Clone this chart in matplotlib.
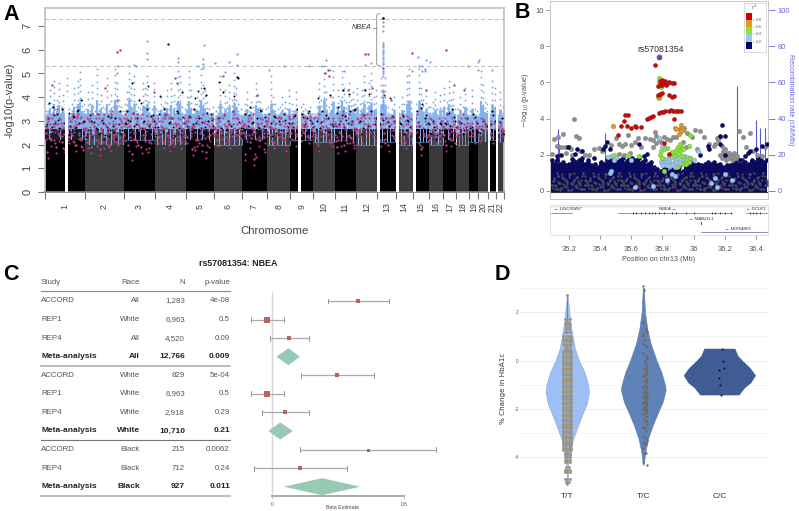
import numpy as np
import matplotlib
matplotlib.use('Agg')
import matplotlib.pyplot as plt
from matplotlib.patches import Polygon, Rectangle

plt.rcParams['font.family'] = ['Liberation Sans', 'DejaVu Sans']

W, H = 799, 511

# ---------- A: manhattan ----------
chrom_len = [249, 243, 198, 191, 181, 171, 159, 146, 141, 135, 135, 133, 115, 107, 102, 90, 81, 78, 59, 63, 48, 51]
chrom_floor = [2.2, 2.0, 2.2, 2.0, 2.2, 2.0, 2.2, 2.0, 2.2, 2.1, 2.1, 2.0, 2.1, 2.0, 2.1, 2.0, 2.2, 2.0, 2.1, 2.1, 2.2, 2.1]
blue_tops = [
    [3.4, 3.7, 4.3, 3.6, 4.7, 3.5, 3.9, 4.6, 3.6, 4.1, 3.7, 4.8, 3.5, 3.3, 3.7, 4.4, 3.6, 4.7, 5.05, 3.9, 3.7],
    [3.5, 4.2, 3.7, 4.5, 3.6, 3.4, 5.2, 3.7, 4.1, 3.6, 3.5, 4.8, 3.7, 4.1, 3.6, 5.2, 4.6, 3.9, 3.6, 3.4],
    [3.7, 4.2, 5.3, 4.4, 4.9, 3.7, 3.6, 3.5, 4.6, 4.4, 4.9, 3.8, 3.5, 4.6],
    [3.5, 3.4, 4.0, 3.6, 3.8, 4.3, 3.5, 4.6, 4.1, 3.7, 5.1, 4.9, 3.6, 3.5],
    [4.0, 5.1, 4.3, 3.5, 3.7, 4.0, 3.9, 5.2, 4.5, 4.3, 3.8, 3.5, 3.3, 3.6],
    [3.4, 3.6, 4.9, 3.6, 4.3, 3.8, 4.5, 3.9, 5.0, 4.4, 3.7, 3.5],
    [3.2, 3.7, 4.2, 3.4, 3.8, 3.6, 4.6, 4.1, 3.8, 3.5, 3.3, 3.5],
    [3.6, 4.9, 4.0, 3.7, 3.5, 3.6, 4.0, 3.8, 3.5, 4.3],
    [3.7, 3.4, 4.2, 3.3, 3.6, 3.7, 3.5, 3.4, 3.6, 3.3],
    [3.3, 3.6, 4.6, 3.9, 5.3, 4.2, 3.6, 4.0, 5.1],
    [3.6, 4.3, 3.9, 5.1, 4.4, 3.8, 4.6, 3.9, 4.2, 3.7],
    [4.4, 3.7, 4.3, 4.9, 3.8, 4.6, 5.0, 4.0, 4.3],
    [3.5, 4.8, 4.5, 4.8, 3.6, 3.3, 3.5, 4.0],
    [3.4, 3.6, 4.0, 3.7, 4.9, 5.2, 3.8],
    [3.4, 3.7, 5.2, 4.4, 3.9, 4.3, 3.6],
    [3.6, 3.8, 4.2, 3.5, 4.1, 3.4],
    [4.4, 3.8, 4.7, 3.9, 4.2, 3.5],
    [3.5, 4.0, 3.6, 4.4, 3.5],
    [3.4, 4.3, 3.5, 3.4],
    [3.3, 5.1, 4.5, 3.8, 3.7],
    [3.7, 4.7, 4.4],
    [3.5, 4.2, 3.6],
]
black_tops = [
    [2.8, 3.1, 2.6, 3.6, 2.9, 3.3, 2.7, 3.5, 2.9, 2.5, 2.4, 2.8, 3.2, 2.7, 3.4, 2.9, 3.9, 3.0],
    [2.3, 2.6, 3.0, 2.4, 2.7, 3.3, 2.5, 2.9, 2.4, 3.2, 2.6, 2.8, 3.1, 2.5, 3.4, 2.6],
    [2.9, 3.4, 3.0, 4.6, 2.8, 3.1, 3.9, 2.7, 3.0, 3.5, 2.8, 3.2, 3.0],
    [2.4, 3.3, 2.6, 3.5, 2.5, 2.9, 3.1, 2.4, 3.4, 2.7, 4.2, 2.9],
    [2.8, 3.2, 2.7, 3.5, 2.9, 3.1, 2.7, 4.4, 4.1, 3.0, 3.3, 2.8],
    [2.5, 3.1, 2.7, 4.2, 2.6, 3.0, 2.8, 3.4, 2.6, 4.8, 2.7],
    [2.7, 3.3, 2.8, 3.6, 2.9, 2.6, 3.1, 2.7, 3.4, 2.8, 3.0],
    [2.4, 2.9, 3.2, 2.5, 3.0, 2.6, 3.3, 2.5, 2.9],
    [2.9, 3.2, 3.5, 3.0, 3.3, 2.8, 3.1, 3.4, 2.9],
    [2.5, 3.0, 2.7, 3.4, 2.6, 3.1, 4.1, 2.8],
    [2.8, 3.6, 3.0, 4.3, 3.2, 2.9, 3.4, 3.0, 3.5],
    [2.6, 3.0, 2.7, 4.3, 2.8, 3.4, 2.6, 3.1],
    [2.9, 3.3, 4.1, 3.1, 2.8, 3.2, 3.0],
    [2.5, 2.9, 3.2, 2.6, 3.0, 2.5],
    [3.0, 3.4, 2.8, 3.7, 3.1, 2.9],
    [2.5, 3.0, 2.6, 2.4, 2.9, 2.6],
    [2.9, 3.3, 2.8, 3.5, 3.0],
    [2.4, 2.9, 2.6, 3.1],
    [2.7, 3.3, 2.9],
    [2.5, 3.0, 2.8],
    [2.8, 3.4, 3.0],
    [2.6, 3.1],
]
pink_vals = [
    [2.5, 1.7, 3.1, 2.2, 4.5, 2.8, 1.9, 3.5, 2.4, 2.9, 2.1, 2.7, 1.6, 2.6, 2.3, 3.0, 2.4, 2.8, 2.0, 3.2, 2.5, 2.2, 2.9, 2.6],
    [2.7, 2.1, 3.0, 1.9, 2.4, 2.8, 2.2, 3.3, 1.8, 2.6, 2.1, 4.4, 2.5, 2.9, 2.0, 3.4, 2.4, 2.7, 3.9, 2.3, 3.0, 2.5],
    [2.4, 3.0, 2.0, 2.8, 1.6, 2.5, 2.2, 3.3, 2.6, 1.9, 2.9, 2.4, 3.2, 2.1, 2.7, 3.0, 4.2],
    [2.9, 2.3, 2.6, 3.0, 2.1, 2.7, 2.4, 2.0, 3.1, 2.2, 4.8, 4.6, 2.6, 2.1, 2.9, 2.4],
    [2.3, 3.0, 2.6, 1.8, 2.8, 2.2, 3.2, 2.5, 2.0, 2.9, 1.7, 2.6, 2.4, 3.1, 2.7],
    [2.7, 2.2, 3.0, 2.5, 4.9, 2.3, 2.8, 2.1, 2.6, 3.4, 2.4, 3.1, 2.7, 2.5],
    [2.8, 1.6, 2.4, 3.0, 2.1, 2.7, 1.4, 2.5, 4.1, 2.2, 2.9, 2.6, 2.3, 2.8],
    [3.0, 2.4, 2.7, 2.1, 2.9, 2.3, 3.1, 2.5, 2.8, 2.0, 2.6, 3.2],
    [2.5, 2.9, 2.2, 2.7, 3.1, 2.4, 2.8, 3.0, 2.6, 2.3, 3.2, 2.6],
    [2.8, 2.3, 2.0, 2.6, 3.0, 2.4, 2.7, 4.9, 2.2, 3.1],
    [2.4, 1.9, 2.8, 2.2, 3.4, 2.0, 2.6, 4.3, 2.3, 2.9, 2.1, 2.7],
    [2.6, 2.9, 2.3, 3.2, 2.5, 5.8, 2.8, 4.4, 2.4, 3.0],
    [2.7, 2.2, 3.1, 2.5, 2.9, 2.0, 3.9, 2.6, 3.0],
    [2.6, 3.0, 2.3, 2.8, 2.1, 3.2, 2.5, 2.7],
    [2.1, 2.8, 2.3, 1.8, 2.7, 4.3, 2.4],
    [2.6, 2.9, 2.3, 2.7, 2.4, 3.0],
    [2.4, 2.0, 2.9, 2.5, 2.2, 2.8, 4.5, 2.6],
    [2.7, 3.0, 2.5, 4.3, 2.8, 2.6],
    [2.6, 2.9, 2.3, 2.7],
    [2.4, 2.8, 3.0, 2.6],
    [2.7, 2.3, 2.9],
    [2.5, 2.8, 2.6],
]
# chromosome gaps, genome position from cumulative Mb
gap_chrom = [1, 9, 13, 14, 15, 21, 22]
gap_start = [125, 48, 0, 0, 0, 0, 0]
gap_end = [143, 66, 20, 20, 20, 11, 16]
out_blue_x = [456, 454, 560, 569, 636, 636, 636, 832, 832, 987, 987, 987, 995, 956, 1066, 1154, 1200, 1200, 1129, 1401,
              1763, 1736, 1788, 1652, 1495, 1876, 2045, 2007, 2338, 2388, 2415, 2300, 2343, 2360, 2380, 2360, 2380, 2651, 2712, 2722, 2712, 2798]
out_blue_y = [5.3, 5.0, 5.35, 5.3, 5.85, 5.6, 6.38, 5.65, 5.5, 5.6, 5.4, 5.25, 6.22, 5.3, 5.45, 5.5, 5.8, 5.35, 5.05, 5.15,
              5.55, 5.3, 5.15, 5.3, 5.3, 5.1, 5.45, 5.35, 5.7, 5.55, 5.5, 5.1, 5.3, 5.3, 5.2, 5.1, 5.1, 5.3, 5.5, 5.55, 5.15, 5.15]
out_pink_x = [470, 454, 2007, 2298, 2513, 1757, 1775]
out_pink_y = [5.97, 5.9, 5.8, 5.85, 6.0, 5.0, 5.15]
out_black_x = [769, 1201]
out_black_y = [6.23, 4.85]
nbea_x = 2120
nbea_blue = [7.15, 7.0, 6.8, 6.3, 6.2, 6.1, 6.0, 5.9, 5.8, 5.7, 5.6, 5.5, 5.4, 5.1, 5.0, 4.9, 4.3, 4.2, 4.1, 4.0, 3.9, 3.8, 3.7, 3.6]
nbea_pink = [5.25]
nbea_black = [7.35]

# ---------- B: locus zoom ----------
lead_x, lead_y = [35.777], [7.39]
red_x = [35.75, 35.785, 35.80, 35.815, 35.79, 35.81, 35.83, 35.845, 35.86, 35.875, 35.77, 35.785, 35.80, 35.825,
         35.785, 35.80, 35.77, 35.84, 35.86, 35.875, 35.78, 35.79, 35.805, 35.815, 35.84, 35.855, 35.87, 35.885, 35.90, 35.92,
         35.70, 35.71, 35.725, 35.74, 35.875, 35.55, 35.56, 35.58, 35.53, 35.57, 35.60, 35.62, 35.63, 35.66, 35.515, 35.81, 35.84]
red_y = [6.98, 6.1, 6.15, 6.1, 5.95, 5.95, 5.9, 6.0, 5.95, 5.95, 5.8, 5.85, 5.85, 5.85,
         5.35, 5.42, 5.3, 5.3, 5.2, 5.25, 4.3, 4.35, 4.38, 4.4, 4.42, 4.45, 4.42, 4.42, 4.4, 4.4,
         4.0, 4.05, 4.1, 4.15, 4.0, 3.85, 4.2, 4.2, 3.6, 3.6, 3.5, 3.6, 3.55, 3.55, 3.1, 2.65, 2.05]
orange_x = [35.48, 35.775, 35.785, 35.88, 35.89, 35.92, 35.925, 35.93, 35.905, 35.92]
orange_y = [3.6, 5.15, 5.3, 3.5, 3.4, 3.65, 3.5, 3.35, 3.15, 3.3]
green_x = [35.775, 35.78, 35.79, 35.77, 35.49, 35.58, 35.65, 35.98, 35.92, 35.90, 35.91, 35.895, 35.88, 35.91, 35.93, 35.97,
           35.79, 35.785, 35.80, 35.83, 35.845, 35.81, 35.87, 35.88, 35.93, 35.95, 35.97, 35.93, 35.95, 35.895, 35.81, 35.98, 35.905, 35.86]
green_y = [6.25, 6.05, 5.75, 5.2, 2.0, 2.0, 1.9, 3.1, 2.45, 2.4, 2.6, 2.3, 2.2, 2.2, 2.3, 2.5,
           2.2, 2.0, 1.8, 2.35, 2.0, 2.3, 2.05, 1.9, 1.9, 1.7, 1.6, 1.5, 1.5, 1.3, 1.1, 1.8, 2.05, 2.15]
lblue_x = [35.80, 35.82, 35.84, 35.86, 35.88, 35.90, 35.92, 35.94, 35.96, 35.79, 35.81, 35.83, 35.85, 35.87, 35.89, 35.91, 35.93, 35.82, 35.84, 35.86, 35.88, 35.90, 35.94, 35.98, 35.80,
           35.81, 35.78, 35.80, 36.03, 35.47, 35.49, 35.45, 35.50, 35.60, 35.46, 35.47, 35.62, 35.74, 35.86, 35.88, 35.83, 36.11, 36.15, 36.14, 36.20, 36.25, 36.0]
lblue_y = [1.8, 1.75, 1.7, 1.85, 1.75, 1.8, 1.7, 1.75, 1.85, 1.6, 1.55, 1.6, 1.5, 1.55, 1.6, 1.55, 1.5, 1.4, 1.35, 1.4, 1.3, 1.35, 1.9, 1.8, 1.4,
           2.4, 2.9, 2.45, 2.2, 1.9, 1.7, 1.85, 1.85, 1.7, 1.0, 1.1, 0.2, 0.25, 0.9, 0.8, 0.6, 0.45, 0.2, 0.7, 0.9, 0.6, 1.7]
gray_x = [35.10, 35.13, 35.16, 35.12, 35.15, 35.17, 35.19, 35.21, 35.23, 35.245, 35.26, 35.09, 35.18, 35.20, 35.22, 35.27, 35.30, 35.33, 35.36, 35.39, 35.41,
          35.47, 35.50, 35.52, 35.54, 35.56, 35.58, 35.60, 35.62, 35.64, 35.66, 35.69, 35.72, 35.74, 35.75, 35.76, 35.78, 35.79, 35.81, 35.83, 35.85, 35.87, 35.76, 35.74,
          35.89, 35.91, 35.94, 35.96, 35.99, 36.04, 36.07, 36.10, 36.13, 36.17, 36.16, 36.18, 36.20, 36.22, 36.24, 36.26, 36.19, 36.21, 36.23, 36.25, 36.27,
          36.29, 36.32, 36.34, 36.36, 36.38, 36.41, 36.44, 36.46, 35.55, 35.59, 35.52, 36.01, 36.02, 35.93, 35.95, 36.15, 36.14,
          36.17, 36.18, 36.19, 36.20, 36.21, 36.22, 36.23, 36.24, 36.25, 36.26, 36.28, 36.30]
gray_y = [2.85, 3.0, 3.15, 2.5, 2.4, 2.45, 2.4, 2.3, 4.0, 3.05, 2.9, 2.05, 2.1, 2.45, 2.0, 2.2, 2.0, 2.0, 2.3, 2.35, 2.2,
          2.55, 2.9, 2.6, 2.5, 2.6, 3.1, 2.55, 2.7, 2.9, 2.45, 2.9, 2.85, 2.8, 3.25, 3.05, 2.85, 2.7, 3.0, 2.85, 2.8, 3.0, 2.65, 2.4,
          2.95, 3.4, 3.45, 3.2, 2.95, 3.3, 2.95, 2.6, 2.5, 3.0, 2.8, 2.5, 2.3, 2.1, 2.0, 2.1, 2.2, 1.9, 1.95, 2.0, 1.8,
          3.3, 3.0, 2.4, 3.2, 2.2, 2.0, 1.9, 2.4, 2.0, 2.1, 2.05, 3.35, 2.3, 2.7, 2.4, 2.9, 2.6,
          2.0, 1.8, 2.1, 1.9, 1.7, 1.8, 2.1, 1.9, 1.7, 1.8, 1.9, 1.7]
navy_x = [36.18, 36.20, 36.17, 35.09, 35.19, 35.15, 35.25, 35.24, 35.28, 35.43, 35.44, 35.42, 35.46, 35.65, 35.70, 36.09, 36.10, 36.04, 36.17, 36.20,
          36.35, 36.36, 36.40, 36.44, 36.47, 35.12, 35.22, 35.32, 35.36, 35.58, 35.68, 36.30, 36.33]
navy_y = [3.65, 3.05, 3.05, 1.7, 2.4, 2.0, 2.3, 2.05, 2.2, 2.5, 2.7, 2.3, 2.3, 2.6, 2.05, 2.5, 2.3, 2.0, 2.6, 2.0,
          2.1, 2.2, 2.3, 2.5, 2.6, 1.9, 1.75, 1.7, 1.8, 1.7, 1.9, 1.7, 1.9]
navy_tops = [1.6, 1.5, 1.7, 1.5, 1.6, 1.4, 1.5, 1.7, 1.6, 1.7, 1.8, 1.5, 1.6, 1.4, 1.5, 1.3, 1.6, 1.5, 1.7, 1.8, 1.7, 1.6, 1.7, 1.8, 1.6, 1.7, 1.8, 1.7, 1.8, 1.6,
             1.7, 1.5, 1.6, 1.3, 1.2, 1.1, 1.2, 1.3, 1.1, 1.2, 1.2, 1.3, 1.1, 1.4, 1.5, 1.6, 1.4, 1.5, 1.4, 1.5, 1.6, 1.5, 1.6, 1.4, 1.5, 1.3, 1.4, 1.4, 1.5, 1.6, 1.5, 1.7, 1.6, 1.5, 1.7, 1.6, 1.8, 1.7, 1.6, 1.7]
specks_y = [0.3, 0.6, 0.1, 0.8, 0.4, 0.15, 0.7, 0.25, 0.5, 0.05, 0.9, 0.35, 0.6, 0.2, 0.75, 0.45, 0.1, 1.0, 0.3, 0.55]
recomb_x = [35.13, 35.135, 35.43, 36.28, 36.40, 36.43, 36.46, 35.16, 35.20, 35.38, 35.55, 35.62, 35.72, 35.88, 35.97, 36.08, 36.15, 36.24, 36.33, 36.37]
recomb_h = [34, 26, 32, 58, 39, 35, 35, 12, 10, 11, 8, 9, 10, 12, 10, 9, 11, 12, 14, 16]
r2_colors = ['#cc0000', '#e49a2a', '#8ae234', '#9dc6ee', '#000066']
r2_ticks = ['0.8', '0.6', '0.4', '0.2']

# ---------- C: forest ----------
studies = ['ACCORD', 'REP1', 'REP4', 'Meta-analysis', 'ACCORD', 'REP1', 'REP4', 'Meta-analysis', 'ACCORD', 'REP4', 'Meta-analysis']
races = ['All', 'White', 'All', 'All', 'White', 'White', 'White', 'White', 'Black', 'Black', 'Black']
ns = ['1,283', '6,963', '4,520', '12,766', '829', '6,963', '2,918', '10,710', '215', '712', '927']
pvals = ['4e-08', '0.5', '0.09', '0.009', '5e-04', '0.5', '0.29', '0.21', '0.0062', '0.24', '0.011']
beta = [0.325, -0.019, 0.065, 0.061, 0.247, -0.019, 0.048, 0.030, 0.363, 0.106, 0.189]
ci_lo = [0.211, -0.081, -0.008, 0.016, 0.110, -0.081, -0.039, -0.015, 0.106, -0.070, 0.044]
ci_hi = [0.442, 0.043, 0.138, 0.105, 0.385, 0.043, 0.138, 0.078, 0.620, 0.285, 0.334]
weight = [4.0, 6.0, 5.0, 0, 3.5, 6.0, 4.5, 0, 3.0, 3.5, 0]

# ---------- D: violins ----------
geno = ['T/T', 'T/C', 'C/C']
tt_y = [2.7, 1.6, 1.0, 0.5, 0.0, -0.5, -1.0, -1.3, -1.8, -2.2, -2.7, -3.2, -3.7, -4.2, -5.1]
tt_w = [0.004, 0.04, 0.07, 0.10, 0.155, 0.23, 0.275, 0.285, 0.255, 0.20, 0.14, 0.08, 0.04, 0.015, 0.004]
tc_y = [3.1, 2.0, 1.3, 0.7, 0.0, -0.5, -1.0, -1.2, -1.7, -2.2, -2.7, -3.2, -3.7, -4.3]
tc_w = [0.004, 0.022, 0.053, 0.097, 0.175, 0.24, 0.285, 0.295, 0.255, 0.185, 0.12, 0.065, 0.03, 0.004]
cc_y = [0.5, 0.2, 0.0, -0.3, -0.6, -0.9, -1.1, -1.4]
cc_w = [0.20, 0.24, 0.30, 0.40, 0.47, 0.41, 0.33, 0.255]
tt_rows = [2.7, 1.7, 1.6, 1.5, 1.4, 1.3, 1.2, 1.0, 0.9, 0.8, 0.7, 0.6, 0.5, 0.4, 0.3, 0.2, 0.1, 0.0, -0.1, -0.2, -0.3, -0.4, -0.5, -0.6, -0.7, -0.8, -0.9,
           -1.0, -1.1, -1.2, -1.3, -1.4, -1.5, -1.6, -1.7, -1.8, -1.9, -2.0, -2.1, -2.2, -2.3, -2.4, -2.5, -2.6, -2.7, -2.8, -2.9, -3.0, -3.1, -3.2,
           -3.3, -3.4, -3.5, -3.6, -3.7, -3.8, -3.9, -4.0, -4.1, -4.2, -4.4, -4.5, -4.6, -4.9, -5.0, -5.1]
tt_count = [1, 3, 2, 3, 2, 2, 3, 4, 4, 4, 4, 3, 3, 4, 4, 4, 4, 4, 4, 4, 4, 4, 4, 4, 4, 4, 4,
            4, 4, 4, 4, 4, 4, 4, 4, 4, 4, 4, 4, 4, 4, 4, 4, 4, 4, 4, 4, 4, 4, 4,
            4, 4, 4, 4, 4, 3, 3, 3, 3, 3, 2, 3, 3, 3, 2, 1]
tc_px = [0.0, 0.01, 0.0, 0.04, 0.05, 0.0, -0.01, 0.01, 0.0, 0.03, 0.05, -0.01, 0.03, 0.05, 0.02, 0.04, 0.05, 0.01, 0.03, 0.05, 0.02, 0.04, 0.0, 0.03, 0.05,
         0.01, 0.04, 0.02, 0.05, -0.01, 0.03, 0.01, 0.05, 0.02, 0.04, 0.0, 0.03, 0.05, 0.01, 0.04, 0.02, 0.0, 0.05, 0.03, 0.01, 0.04, -0.01, 0.02, 0.05, 0.03,
         0.0, 0.04, 0.01, 0.03, 0.05, -0.01, 0.02, 0.04, 0.0, 0.03, 0.05, 0.01, 0.04, 0.0, 0.03, 0.02, 0.0, 0.05]
tc_py = [3.1, 2.9, 1.6, 1.3, 1.2, 1.1, 1.0, 0.85, 0.7, 0.6, 0.55, 0.3, 0.2, 0.1, 0.0, -0.15, -0.25, -0.3, -0.4, -0.45, -0.55, -0.6, -0.65, -0.75, -0.8,
         -0.85, -0.9, -1.0, -1.05, -1.1, -1.15, -1.25, -1.3, -1.35, -1.4, -1.45, -1.5, -1.55, -1.6, -1.65, -1.7, -1.75, -1.8, -1.85, -1.9, -1.95, -2.0, -2.05, -2.1, -2.15,
         -2.2, -2.3, -2.4, -2.5, -2.6, -2.75, -2.8, -2.9, -3.1, -3.2, -3.3, -3.4, -3.45, -3.6, -3.8, -3.8, -4.2, -4.3]
cc_px = [0.03, 0.05, 0.06, -0.01, 0.0, 0.01, 0.02]
cc_py = [0.5, 0.0, -0.3, -0.4, -0.7, -1.0, -1.4]


def axes_px(fig, l, t, r, b):
    return fig.add_axes([l / W, 1 - b / H, (r - l) / W, (b - t) / H])


fig = plt.figure(figsize=(W / 100, H / 100), dpi=100)

# ---- panel A ----
ax = axes_px(fig, 45, 8, 504, 192)
starts = np.concatenate([[0], np.cumsum(chrom_len)])
for i, n in enumerate(chrom_len):
    base = '#000000' if i % 2 == 0 else '#3a3a3a'
    ax.bar(starts[i], chrom_floor[i], width=n, align='edge', color=base, lw=0, zorder=1)
    tops = np.array(blue_tops[i], dtype=float)
    step = n / len(tops)
    bx = starts[i] + (np.arange(len(tops)) + 0.5) * step
    solid = 3.15 + (tops - 3.15) * 0.35
    # solid blue body, sparse dotted spike above it
    ax.vlines(bx, chrom_floor[i], solid, color='#84b2ec', lw=step * 0.1147 + 0.2, zorder=2)
    for x0, s0, t0 in zip(bx, solid, tops):
        yy = np.arange(t0, s0, -0.27)
        ax.scatter([x0] * len(yy), yy, s=1.8, color='#7aa8e4', lw=0, zorder=3)
    kt = np.array(black_tops[i])
    step_k = n / len(kt)
    kx = starts[i] + (np.arange(len(kt)) + 0.5) * step_k
    ax.vlines(kx, chrom_floor[i], np.minimum(kt, 2.75) - 0.1, color=base, lw=step_k * 0.1147 * 0.75, zorder=4)
    ax.scatter(kx, kt, s=2.4, color='black', lw=0, zorder=4)
    ax.scatter(kx + step_k / 2, kt[::-1] - 0.15, s=2, color='black', lw=0, zorder=4)
    pv = np.array(pink_vals[i])
    step_p = n / len(pv)
    pos_p = starts[i] + (np.arange(len(pv)) + 0.5) * step_p
    ax.scatter(pos_p, pv, s=3, color='#c0408e', lw=0, zorder=5)
    ax.scatter(pos_p + step_p / 2, np.minimum(pv[::-1], 3.2) + 0.08, s=2.6, color='#b8408a', lw=0, zorder=5)
    ax.scatter(pos_p + step_p / 4, np.minimum(pv, 3.1) - 0.25, s=2.4, color='#b03d84', lw=0, zorder=5)
    ax.scatter(pos_p - step_p / 4, np.minimum(pv[::-1], 2.9) + 0.2, s=2.4, color='#b8408a', lw=0, zorder=5)
for c, g0, g1 in zip(gap_chrom, gap_start, gap_end):
    ax.bar(starts[c - 1] + g0, 4.0, width=g1 - g0, align='edge', color='white', lw=0, zorder=6)
ax.scatter(out_blue_x, out_blue_y, s=2.4, color='#6f9fdc', lw=0, zorder=7)
ax.scatter(out_pink_x, out_pink_y, s=3, color='#c0307e', lw=0, zorder=7)
ax.scatter(out_black_x, out_black_y, s=3, color='#222222', lw=0, zorder=7)
ax.scatter([nbea_x] * len(nbea_blue), nbea_blue, s=2.6, color='#6f9fdc', lw=0, zorder=7)
ax.scatter([nbea_x] * len(nbea_pink), nbea_pink, s=3, color='#c0307e', lw=0, zorder=7)
ax.scatter([nbea_x] * len(nbea_black), nbea_black, s=4, color='#111111', lw=0, zorder=8)
ax.axhline(7.3, color='#bbbbbb', lw=0.7, ls=(0, (4, 3)), zorder=2)
ax.axhline(5.3, color='#bbbbbb', lw=0.7, ls=(0, (4, 3)), zorder=2)
ax.plot([2098, 2082, 2078, 2078, 2082, 2098], [7.52, 7.5, 7.42, 5.42, 5.34, 5.32], color='#999999', lw=0.7, zorder=6)
ax.plot([2054, 2078], [6.93, 6.93], color='#999999', lw=0.7, zorder=6)
ax.text(2046, 6.93, 'NBEA', style='italic', fontsize=5.2, color='#333333', ha='right', va='center', zorder=9)
ax.set_xlim(0, starts[-1])
ax.set_ylim(0, 7.76)
ax.set_yticks(range(8))
ax.set_yticklabels(range(8), rotation=90, va='center', fontsize=8, color='#444444')
ax.set_xticks(starts)
ax.set_xticklabels([])
ax.tick_params(axis='x', length=5, width=0.8, color='#777777')
ax.tick_params(axis='y', length=5, width=0.8, color='#777777', pad=4)
for s in ax.spines.values():
    s.set_color('#c4c4c4')
    s.set_linewidth(1.3)
ax.spines['bottom'].set_color('#888888')
mids = (starts[:-1] + starts[1:]) / 2
for i, m in enumerate(mids):
    ax.text(m, -0.63, str(i + 1), rotation=90, ha='center', va='center', fontsize=6.3, color='#444444', clip_on=False)
ax.set_ylabel('-log10(p-value)', fontsize=8, color='#444444', labelpad=6)
ax.set_xlabel('Chromosome', fontsize=8.2, color='#444444', labelpad=16)

# ---- panel B ----
bx_ax = axes_px(fig, 550, 1.3, 768, 199)
bx_ax.set_xlim(35.076, 36.479)
bx_ax.set_ylim(-0.46, 10.5)
recomb = bx_ax.twinx()
recomb.set_ylim(-4.6, 105)
recomb.vlines(recomb_x, 0, recomb_h, color='#5a5ad6', lw=0.8, zorder=1)
bx_ax.set_zorder(recomb.get_zorder() + 1)
bx_ax.patch.set_visible(False)
nx = np.linspace(35.08, 36.475, len(navy_tops))
bx_ax.fill_between(nx, -0.08, navy_tops, step='mid', color='#0a0a5e', lw=0, zorder=2)
bx_ax.scatter(nx, navy_tops, s=11, color='#0a0a5e', lw=0, zorder=2)
sx = np.linspace(35.09, 36.47, 120)
sy = np.resize(specks_y, sx.size)
bx_ax.scatter(sx, sy, s=3.5, color='#55555f', lw=0, zorder=3)
bx_ax.scatter(sx + 0.005, np.resize(specks_y[::-1], sx.size), s=3.5, color='#44444f', lw=0, zorder=3)
bx_ax.scatter(sx + 0.003, np.resize(specks_y[5:] + specks_y[:5], sx.size), s=3, color='#4a4a55', lw=0, zorder=3)
bx_ax.plot([35.08, 36.475], [-0.08, -0.08], color='#333344', lw=0.8, zorder=3)
ms = 11
bx_ax.scatter(gray_x, gray_y, s=ms, color='#8e8e8e', edgecolor='#7c7c7c', lw=0.2, zorder=4)
bx_ax.scatter(navy_x, navy_y, s=ms, color='#0a0a5e', lw=0, zorder=5)
bx_ax.scatter(lblue_x, lblue_y, s=ms, color='#9dc6ee', edgecolor='#7a9ab8', lw=0.3, zorder=5)
bx_ax.scatter(green_x, green_y, s=ms, color='#8ae234', edgecolor='#77aa55', lw=0.3, zorder=6)
bx_ax.scatter(orange_x, orange_y, s=ms, color='#e49a2a', edgecolor='#99794a', lw=0.3, zorder=6)
bx_ax.scatter(red_x, red_y, s=ms, color='#b81010', lw=0, zorder=7)
bx_ax.scatter(lead_x, lead_y, s=14, color='#7b3fa8', edgecolor='#555555', lw=0.3, zorder=8)
bx_ax.text(35.79, 7.85, 'rs57081354', fontsize=6.3, color='#333333', ha='center', va='center', zorder=9)
bx_ax.set_yticks([0, 2, 4, 6, 8, 10])
bx_ax.set_xticks([])
bx_ax.tick_params(axis='y', length=3, width=0.6, color='#888888', labelsize=5.5, labelcolor='#555555', pad=1.5)
bx_ax.set_ylabel(r'$-\log_{10}$(p-value)', fontsize=5.2, color='#555555', labelpad=3)
recomb.set_yticks([0, 20, 40, 60, 80, 100])
recomb.tick_params(axis='y', length=5, width=0.6, color='#6666dd', labelsize=5.5, labelcolor='#6666dd', pad=2)
recomb.set_ylabel('Recombination rate (cM/Mb)', rotation=270, fontsize=5.2, color='#6666dd', labelpad=3)
for a in (bx_ax, recomb):
    for s in a.spines.values():
        s.set_color('#c8c8c8')
        s.set_linewidth(0.7)

# r2 legend
lg = axes_px(fig, 744, 3, 766, 52)
lg.set_xlim(0, 22)
lg.set_ylim(49, 0)
lg.set_xticks([])
lg.set_yticks([])
lg.set_zorder(20)
for s in lg.spines.values():
    s.set_color('#cccccc')
    s.set_linewidth(0.5)
for i, c in enumerate(r2_colors):
    lg.add_patch(Rectangle((1.7, 9.5 + i * 7.3), 6.7, 7.3, color=c, lw=0))
for i, t in enumerate(r2_ticks):
    lg.plot([8.4, 10.5], [16.8 + i * 7.3] * 2, color='#999999', lw=0.3)
    lg.text(11.5, 16.8 + i * 7.3, t, fontsize=3.2, color='#666666', va='center')
lg.text(10, 4.5, r'$r^2$', fontsize=3.8, color='#555555', ha='center', va='center')

# gene track
tr = axes_px(fig, 550, 205, 768, 235)
tr.set_xlim(35.076, 36.479)
tr.set_ylim(0, 30)
tr.axhspan(27.5, 30, color='#efefef', lw=0)
tr.plot([35.08, 35.215], [22.5, 22.5], color='#3c3c8c', lw=0.4)
tr.plot([35.515, 36.25], [22.5, 22.5], color='#3c3c8c', lw=0.4)
tr.plot([36.34, 36.475], [22.5, 22.5], color='#3c3c8c', lw=0.4)
tr.plot([36.05, 36.475], [2.7, 2.7], color='#3c3c8c', lw=0.4)
tr.vlines([35.61, 35.63, 35.66, 35.69, 35.71, 35.73, 35.75, 35.78, 35.81, 35.86, 35.89, 35.95, 36.0, 36.12, 36.14, 36.17, 36.2, 36.24, 36.36, 36.38, 36.4, 36.43],
          21.5, 23.5, color='#222266', lw=0.6)
tr.plot([36.05, 36.05], [11, 13], color='#222266', lw=0.6)
tr.text(35.10, 25.7, '\u2190 LINC00457', fontsize=3.2, style='italic', color='#333333', va='center')
tr.text(35.78, 25.7, 'NBEA \u2192', fontsize=3.2, style='italic', color='#333333', va='center')
tr.text(35.97, 15.8, '\u2190 MAB21L1', fontsize=3.2, style='italic', color='#333333', va='center')
tr.text(36.2, 6, '\u2190 MIR548F5', fontsize=3.2, style='italic', color='#333333', va='center')
tr.text(36.34, 25.7, '\u2190 DCLK1', fontsize=3.2, style='italic', color='#333333', va='center')
tr.set_yticks([])
tr.set_xticks([35.2, 35.4, 35.6, 35.8, 36, 36.2, 36.4])
tr.set_xticklabels(['35.2', '35.4', '35.6', '35.8', '36', '36.2', '36.4'])
tr.tick_params(axis='x', length=3, width=0.6, color='#888888', labelsize=5.5, labelcolor='#555555', pad=5)
tr.set_xlabel('Position on chr13 (Mb)', fontsize=5.2, color='#555555', labelpad=2)
for s in tr.spines.values():
    s.set_color('#dddddd')
    s.set_linewidth(0.6)

# ---- panel C ----
ov = fig.add_axes([0, 0, 1, 1])
ov.set_xlim(0, W)
ov.set_ylim(H, 0)
ov.axis('off')
ov.patch.set_visible(False)
ov.set_zorder(30)
ov.text(238, 264, 'rs57081354: NBEA', fontsize=6.4, fontweight='bold', color='#222222', ha='center', va='center')
row_y = 301 + 18.57 * np.arange(len(studies))
ov.text(41, 282.7, 'Study', fontsize=5.7, color='#555555', va='center')
ov.text(140, 282.7, 'Race', fontsize=5.7, color='#555555', va='center', ha='right')
ov.text(185, 282.7, 'N', fontsize=5.7, color='#555555', va='center', ha='right')
ov.text(230, 282.7, 'p-value', fontsize=5.7, color='#555555', va='center', ha='right')
for y, s, r, n, p in zip(row_y, studies, races, ns, pvals):
    meta = s == 'Meta-analysis'
    kw = dict(fontsize=6.0 if meta else 5.7, color='#222222' if meta else '#555555',
              fontweight='bold' if meta else 'normal', va='center')
    ov.text(41, y, s, **kw)
    ov.text(140, y, r, ha='right', **kw)
    ov.text(185, y, n, ha='right', **kw)
    ov.text(230, y, p, ha='right', **kw)
ov.plot([41, 230], [291.3, 291.3], color='#888888', lw=0.8)
ov.plot([41, 230], [365.7, 365.7], color='#b0b0b0', lw=1.2)
ov.plot([41, 230], [440.3, 440.3], color='#777777', lw=0.8)
ov.plot([41, 230], [495.7, 495.7], color='#b0b0b0', lw=1.2)

fa = axes_px(fig, 245, 288, 460, 496)
fa.set_xlim(-0.1036, 0.7126)
fa.set_ylim(10.5, -0.7)
fa.patch.set_visible(False)
fa.plot([0, 0], [-0.5, 10.5], color='#d6d6d6', lw=1, zorder=1)
for i in range(len(beta)):
    if weight[i] == 0:
        fa.add_patch(Polygon([[ci_lo[i], i], [beta[i], i - 0.46], [ci_hi[i], i], [beta[i], i + 0.46]], color='#98c9b5', lw=0, zorder=2))
    else:
        fa.plot([ci_lo[i], ci_hi[i]], [i, i], color='#aaaaaa', lw=0.9, zorder=2)
        fa.plot([ci_lo[i]] * 2, [i - 0.13, i + 0.13], color='#999999', lw=0.7, zorder=2)
        fa.plot([ci_hi[i]] * 2, [i - 0.13, i + 0.13], color='#999999', lw=0.7, zorder=2)
        fa.plot(beta[i], i, 's', ms=weight[i] * 0.72, color='#b8645a', mew=0, zorder=3)
for k in ('top', 'left', 'right'):
    fa.spines[k].set_visible(False)
fa.spines['bottom'].set_bounds(0, 0.5)
fa.spines['bottom'].set_color('#aaaaaa')
fa.spines['bottom'].set_linewidth(1.4)
fa.set_yticks([])
fa.set_xticks([0, 0.5])
fa.set_xticklabels(['0', '0.5'])
fa.tick_params(axis='x', length=2, width=0.5, color='#aaaaaa', labelsize=3.6, labelcolor='#555555', pad=2)
ov.text(343, 507.7, 'Beta Estimate', fontsize=3.8, color='#444444', ha='center', va='center')

# ---- panel D ----
vx = axes_px(fig, 520, 288, 768, 481.7)
vx.set_xlim(-0.622, 2.64)
vx.set_ylim(-5, 3)
vx.patch.set_visible(False)
for v in range(-5, 4):
    vx.axhline(v, color='#ececec' if v % 2 == 0 else '#f4f4f4', lw=0.7, zorder=0)
for i, (yy, ww, fc, ec) in enumerate([(tt_y, tt_w, '#9cc0f5', '#88a5d0'), (tc_y, tc_w, '#5f82b8', '#587aae'), (cc_y, cc_w, '#3f5c94', '#3f5c94')]):
    vx.fill_betweenx(yy, i - np.array(ww), i + np.array(ww), color=fc, edgecolor=ec, lw=0.4, zorder=2)
vx.plot([0, 0], [1.5, 2.7], color='#777777', lw=0.6, zorder=2)
vx.plot([1, 1], [2.4, 3.1], color='#777777', lw=0.6, zorder=2)
for y, c in zip(tt_rows, tt_count):
    w = {1: 0, 2: 0.02, 3: 0.035, 4: 0.05}[c]
    vx.scatter(np.linspace(-w, w, c), [y] * c, s=4, color='#9c8f70', edgecolor='#94a4b8', lw=0.15, zorder=3, clip_on=False)
vx.scatter(1 + np.array(tc_px), tc_py, s=2.8, color='#6f6648', lw=0, zorder=3, clip_on=False)
vx.scatter(2 + np.array(cc_px), cc_py, s=2.2, color='#111122', lw=0, zorder=3)
for k in vx.spines:
    vx.spines[k].set_visible(False)
vx.set_yticks([2, 0, -2, -4])
vx.set_yticklabels(['2', '0', '-2', '-4'])
vx.tick_params(axis='y', length=0, labelsize=3.4, labelcolor='#555555', pad=1)
vx.set_xticks([0, 1, 2])
vx.set_xticklabels(geno)
vx.tick_params(axis='x', length=0, labelsize=6, labelcolor='#333333', pad=8)
ov.text(503.5, 388, '% Change in HbA1c', rotation=90, fontsize=5.2, family='DejaVu Sans', color='#333333', ha='center', va='center')

# panel letters
for lbl, x, y in [('A', 3, 14), ('B', 515, 13), ('C', 3, 275), ('D', 495, 275)]:
    ov.text(x, y, lbl, fontsize=15.5, fontweight='bold', color='black', va='center')

fig.savefig('out.png', dpi=100)
